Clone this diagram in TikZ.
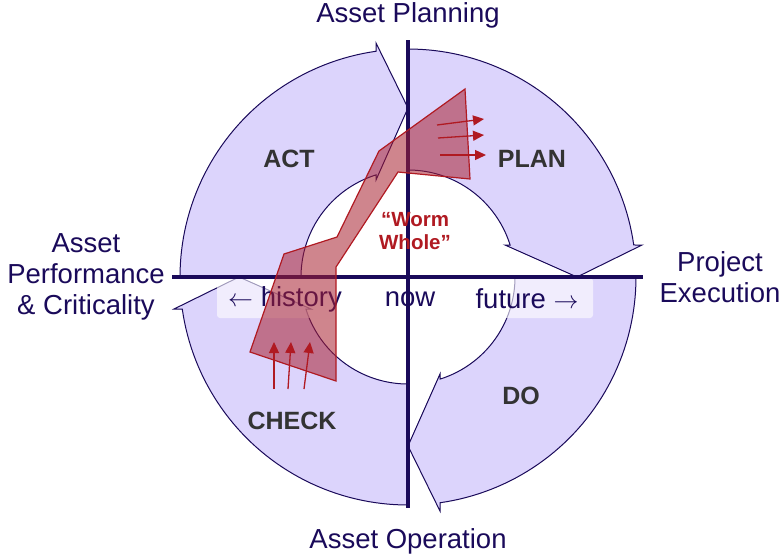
\documentclass[tikz,border=0pt]{standalone}
\usepackage{fontspec}
\setmainfont{Liberation Sans}
\usetikzlibrary{arrows.meta}
\definecolor{navy}{HTML}{1A0A5A}
\definecolor{lav}{HTML}{DCD4FC}
\definecolor{wred}{HTML}{B01A22}
\definecolor{wfill}{HTML}{A82030}
\definecolor{lbl}{HTML}{333333}
\tikzset{
  cyc/.style={fill=lav, draw=navy, line width=1pt},
  axis/.style={draw=navy, line width=3.5pt},
  big/.style={font=\fontsize{27.5}{31}\selectfont, text=navy, align=center, inner sep=0pt},
  phase/.style={font=\fontsize{25}{28}\selectfont\bfseries, text=lbl},
  worm/.style={fill=wfill, fill opacity=0.55, draw=wred, line width=1.2pt},
  warr/.style={draw=wred, line width=1.3pt, -{Triangle[length=11pt,width=10pt]}},
}
\newcommand{\cycarrow}[1]{%
  \begin{scope}[shift={(408,277)}, yscale=-1, rotate=#1]
    \path[cyc] plot[domain=90:8.07, samples=50] ({228*cos(\x)},{228*sin(\x)})
      -- (234,32) -- (169,0) -- (97,32)
      -- plot[domain=17.4:90, samples=40] ({107*cos(\x)},{107*sin(\x)}) -- cycle;
  \end{scope}}
\begin{document}
\begin{tikzpicture}[x=1pt, y=-1pt]
\useasboundingbox (0,0) rectangle (783,557);
\cycarrow{0}
\cycarrow{90}
\cycarrow{180}
\cycarrow{270}
\fill[white, opacity=0.6, rounded corners=3pt] (217,278) rectangle (593,318);
\node[big] (hist) at (285,299) {$\leftarrow$ history};
\node[big] (now) at (410,299) {now};
\node[big] (fut) at (527,299) {future $\rightarrow$};
\draw[axis] (172,277) -- (643,277);
\draw[axis] (408,40) -- (408,508);
\path[worm] (465,89) -- (470,179) -- (398,172) -- (336,267) -- (336,381)
  -- (250,352) -- (284,254) -- (337,237) -- (379,151) -- cycle;
\coordinate (r1a) at (437,125); \coordinate (r1b) at (484,119);
\coordinate (r2a) at (438,138); \coordinate (r2b) at (484,135);
\coordinate (r3a) at (440,155); \coordinate (r3b) at (486,155);
\coordinate (u1a) at (274,389); \coordinate (u1b) at (274,342);
\coordinate (u2a) at (288,389); \coordinate (u2b) at (291,342);
\coordinate (u3a) at (304,389); \coordinate (u3b) at (310,342);
\draw[warr] (r1a) -- (r1b);
\draw[warr] (r2a) -- (r2b);
\draw[warr] (r3a) -- (r3b);
\draw[warr] (u1a) -- (u1b);
\draw[warr] (u2a) -- (u2b);
\draw[warr] (u3a) -- (u3b);
\node[font=\fontsize{20.5}{23}\selectfont\bfseries, text=wred, align=center] (ww) at (415,231) {“Worm\\Whole”};
\node[phase] (act) at (289,159) {ACT};
\node[phase] (plan) at (532,159) {PLAN};
\node[phase] (do) at (521,396) {DO};
\node[phase] (check) at (292,421) {CHECK};
\node[big] (ap) at (408,15) {Asset Planning};
\node[big] (ao) at (408,541) {Asset Operation};
\node[big] (pe) at (720,277) {Project\\Execution};
\node[big] (apc) at (86,277) {Asset\\Performance\\\& Criticality};
\end{tikzpicture}
\end{document}
